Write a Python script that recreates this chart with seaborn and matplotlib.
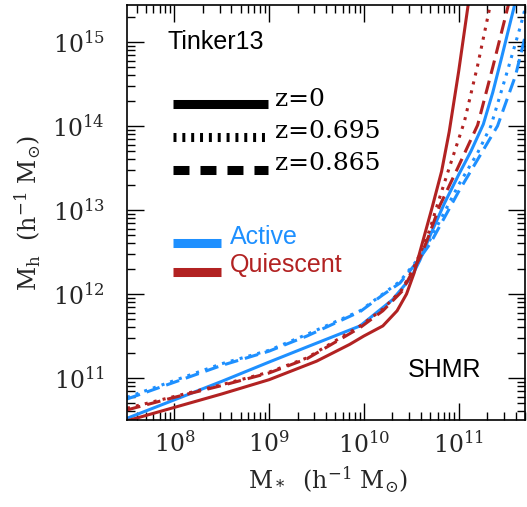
import numpy as np
import pandas as pd
import matplotlib
matplotlib.use("Agg")
import matplotlib.pyplot as plt
import seaborn as sns
from matplotlib.ticker import LogLocator, LogFormatterMathtext, NullFormatter

# ---- data (log10 values) ----
# Quiescent, z=0
q0_x = [7.5, 8.0, 8.5, 9.0, 9.5, 9.85, 10.0, 10.2, 10.35, 10.45, 10.53, 10.62, 10.72, 10.82, 10.9, 11.0, 11.1, 11.15]
q0_y = [10.49, 10.65, 10.81, 10.98, 11.2, 11.4, 11.5, 11.62, 11.8, 12.0, 12.25, 12.62, 13.03, 13.46, 13.93, 14.65, 15.44, 15.8]
# Quiescent, z=0.695
q1_x = [7.5, 8.0, 8.5, 9.0, 9.4, 9.96, 10.2, 10.4, 10.52, 10.6, 10.69, 10.8, 10.9, 11.06, 11.2, 11.33, 11.4]
q1_y = [10.64, 10.78, 10.92, 11.07, 11.24, 11.62, 11.82, 12.05, 12.3, 12.5, 12.75, 13.15, 13.5, 14.05, 14.72, 15.42, 15.8]
# Quiescent, z=0.865
q2_x = [7.5, 8.0, 8.5, 9.0, 9.4, 9.96, 10.2, 10.4, 10.52, 10.6, 10.68, 10.8, 10.99, 11.2, 11.36, 11.52, 11.6]
q2_y = [10.62, 10.77, 10.91, 11.06, 11.23, 11.6, 11.8, 12.03, 12.28, 12.45, 12.68, 13.05, 13.5, 14.01, 14.7, 15.42, 15.82]
# Active, z=0
a0_x = [7.5, 8.0, 8.5, 9.0, 9.4, 9.96, 10.3, 10.5, 10.59, 10.7, 10.85, 11.0, 11.13, 11.26, 11.36, 11.45, 11.59, 11.7]
a0_y = [10.52, 10.74, 10.96, 11.19, 11.37, 11.62, 11.93, 12.2, 12.4, 12.7, 13.08, 13.42, 13.7, 14.02, 14.4, 14.8, 15.44, 16.0]
# Active, z=0.695
a1_x = [7.5, 8.0, 8.5, 9.0, 9.4, 9.96, 10.2, 10.38, 10.56, 10.7, 11.0, 11.2, 11.34, 11.5, 11.65, 11.75]
a1_y = [10.77, 10.97, 11.17, 11.33, 11.52, 11.8, 12.0, 12.15, 12.4, 12.65, 13.3, 13.68, 14.0, 14.6, 15.18, 15.6]
# Active, z=0.865
a2_x = [7.5, 8.0, 8.5, 9.0, 9.4, 9.96, 10.2, 10.38, 10.56, 10.7, 11.0, 11.2, 11.41, 11.6, 11.7, 11.8]
a2_y = [10.75, 10.95, 11.15, 11.32, 11.5, 11.79, 11.99, 12.13, 12.38, 12.6, 13.22, 13.6, 14.0, 14.6, 15.06, 15.5]

types = ["Active", "Quiescent"]
redshifts = ["z=0", "z=0.695", "z=0.865"]
series = {
    ("Quiescent", "z=0"): (q0_x, q0_y),
    ("Quiescent", "z=0.695"): (q1_x, q1_y),
    ("Quiescent", "z=0.865"): (q2_x, q2_y),
    ("Active", "z=0"): (a0_x, a0_y),
    ("Active", "z=0.695"): (a1_x, a1_y),
    ("Active", "z=0.865"): (a2_x, a2_y),
}

rows = []
for (t, z), (xs, ys) in series.items():
    for lx, ly in zip(xs, ys):
        rows.append({"Mstar": 10 ** lx, "Mh": 10 ** ly, "type": t, "z": z})
df = pd.DataFrame(rows)

# ---- style ----
sns.set_theme(style="ticks")
plt.rcParams["font.family"] = ["DejaVu Serif"]
plt.rcParams["mathtext.fontset"] = "dejavuserif"

BLUE = "#1E90FF"
RED = "#B22222"

fig = plt.figure(figsize=(5.27, 5.07), dpi=100)
ax = fig.add_axes([127 / 527, 1 - 420 / 507, 398 / 527, 415 / 507])

sns.lineplot(
    data=df, x="Mstar", y="Mh", hue="type", style="z",
    hue_order=types, style_order=redshifts,
    palette={"Active": BLUE, "Quiescent": RED},
    dashes={"z=0": "", "z=0.695": (1.0, 2.0), "z=0.865": (4.5, 2.3)},
    linewidth=2.2, legend=False, sort=False, estimator=None, ax=ax,
)

ax.set_xscale("log")
ax.set_yscale("log")
ax.set_xlim(10 ** 7.5, 10 ** 11.7)
ax.set_ylim(10 ** 10.5, 10 ** 15.44)

for axis in (ax.xaxis, ax.yaxis):
    axis.set_major_locator(LogLocator(base=10))
    axis.set_minor_locator(LogLocator(base=10, subs=np.arange(2, 10)))
    axis.set_major_formatter(LogFormatterMathtext())
    axis.set_minor_formatter(NullFormatter())

ax.tick_params(which="both", direction="in", top=True, right=True, color="black", width=1.0)
ax.tick_params(which="major", length=12, labelsize=17)
ax.tick_params(which="minor", length=6)
ax.tick_params(axis="y", which="major", pad=16)
ax.tick_params(axis="x", which="major", pad=8)
for s in ax.spines.values():
    s.set_linewidth(1.2)
    s.set_color("black")

ax.set_xlabel(r"$\mathrm{M_*\ \ (h^{-1}\ M_{\odot})}$", fontsize=17, va="center")
ax.set_ylabel(r"$\mathrm{M_h\ \ (h^{-1}\ M_{\odot})}$", fontsize=17, va="center")
ax.xaxis.set_label_coords(0.505, -0.145)
ax.yaxis.set_label_coords(-0.249, 0.5)

# ---- annotations / custom legends ----
sans = ["Liberation Sans", "DejaVu Sans"]
ax.text(0.103, 0.911, "Tinker13", transform=ax.transAxes, fontsize=18,
        family=sans, va="center", ha="left", color="black")
ax.text(0.706, 0.12, "SHMR", transform=ax.transAxes, fontsize=18,
        family=sans, va="center", ha="left", color="black")

leg_x = [0.1156, 0.3543]
leg_styles = [("-", None), ("--", (0.33, 0.65)), ("--", (1.77, 1.22))]
leg_y = [0.761, 0.682, 0.602]
leg_ty = [0.773, 0.694, 0.617]
for (ls, dsh), y, ty, lab in zip(leg_styles, leg_y, leg_ty, redshifts):
    ln, = ax.plot(leg_x, [y, y], transform=ax.transAxes, color="black",
                  lw=6.5, solid_capstyle="butt", dash_capstyle="butt")
    if dsh is not None:
        ln.set_dashes(dsh)
    ax.text(0.372, ty, lab, transform=ax.transAxes, fontsize=18,
            va="center", ha="left", color="black")

for y, ty, lab, col in [(0.4265, 0.4417, "Active", BLUE), (0.3566, 0.3735, "Quiescent", RED)]:
    ax.plot([0.1156, 0.236], [y, y], transform=ax.transAxes, color=col,
            lw=6.5, solid_capstyle="butt")
    ax.text(0.259, ty, lab, transform=ax.transAxes, fontsize=18,
            family=sans, va="center", ha="left", color=col)

fig.savefig("out.png", dpi=100)
